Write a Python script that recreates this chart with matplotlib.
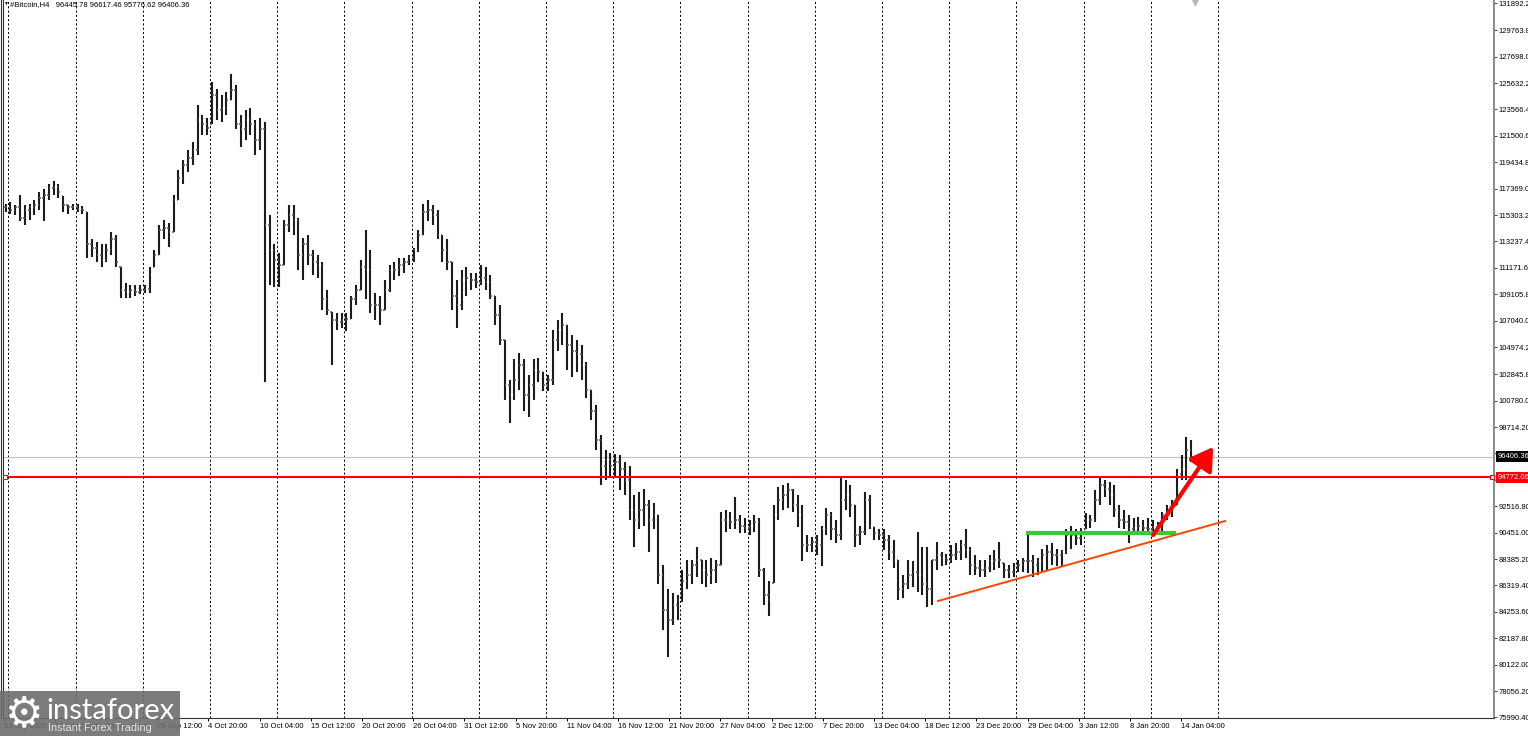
"""Bitcoin H4 bar chart in MetaTrader style with the marked-up levels."""

import matplotlib
matplotlib.use("Agg")
import matplotlib.pyplot as plt
from matplotlib.lines import Line2D
from matplotlib.patches import Rectangle
import numpy as np
import pandas as pd

# 12-hour bars, prices in thousands of USD
START = "2025-09-13 12:00"
HIGH = [
    116.2, 116.3, 116.1, 116.9, 116.1, 116.2, 116.5, 117.1, 117.3, 117.7,
    118.0, 117.7, 116.8, 116.1, 116.2, 116.2, 116.0, 115.5, 113.4, 113.2,
    113.0, 113.0, 114.0, 113.7, 111.2, 110.0, 109.8, 109.8, 109.8, 109.8,
    111.2, 112.6, 114.5, 114.9, 114.7, 116.9, 118.8, 119.6, 120.4, 121.0,
    123.9, 123.1, 122.9, 125.7, 125.2, 124.7, 124.9, 126.3, 125.5, 123.1,
    123.5, 123.7, 122.7, 122.9, 122.6, 115.3, 113.0, 112.3, 114.9, 116.1,
    116.1, 115.1, 113.5, 113.7, 112.6, 112.2, 111.6, 109.4, 107.7, 107.6,
    107.6, 107.6, 109.0, 109.8, 111.8, 114.1, 112.6, 109.2, 109.0, 110.2,
    111.4, 111.6, 111.9, 111.9, 112.2, 112.7, 114.1, 116.2, 116.5, 116.1,
    115.7, 113.7, 113.4, 111.6, 110.2, 111.0, 111.2, 110.8, 110.8, 111.4,
    111.2, 110.6, 109.0, 108.3, 105.5, 102.4, 104.0, 104.5, 104.0, 102.8,
    104.0, 104.1, 103.0, 102.8, 106.3, 107.1, 107.6, 106.7, 105.9, 105.5,
    105.1, 103.8, 101.6, 100.4, 98.1, 96.9, 96.7, 96.6, 96.5, 96.0,
    95.7, 93.4, 93.6, 93.9, 93.0, 92.8, 91.8, 87.9, 86.0, 85.7,
    85.6, 87.5, 88.3, 88.3, 89.3, 88.3, 88.3, 88.5, 88.3, 92.1,
    92.2, 92.1, 93.2, 91.8, 91.6, 91.4, 91.8, 91.6, 87.7, 86.7,
    92.6, 94.0, 94.2, 94.3, 93.9, 93.4, 92.6, 90.3, 90.1, 90.3,
    91.0, 92.4, 92.1, 91.4, 94.7, 94.6, 94.2, 92.6, 91.0, 93.6,
    93.4, 90.9, 90.7, 90.7, 90.3, 89.9, 88.3, 87.1, 88.3, 88.2,
    90.5, 89.3, 89.3, 88.3, 89.7, 88.9, 88.8, 89.5, 89.6, 89.9,
    90.7, 89.3, 88.7, 88.3, 88.3, 88.7, 89.1, 89.7, 88.1, 87.9,
    88.1, 88.3, 88.5, 90.5, 88.7, 88.5, 89.2, 89.5, 89.6, 89.2,
    89.1, 90.7, 91.0, 90.7, 90.8, 92.0, 91.8, 93.8, 94.8, 94.6,
    94.4, 94.2, 92.6, 92.2, 91.8, 91.6, 91.7, 91.4, 91.6, 91.4,
    91.3, 92.1, 92.6, 93.0, 95.4, 96.5, 97.9, 97.7,
]
LOW = [
    115.5, 115.4, 115.3, 114.8, 114.5, 114.9, 115.3, 115.7, 114.8, 116.5,
    116.9, 116.6, 115.5, 115.4, 115.7, 115.5, 115.4, 111.9, 112.0, 111.6,
    111.2, 111.6, 112.2, 111.2, 108.8, 108.8, 108.8, 109.0, 109.1, 109.2,
    109.2, 111.2, 112.2, 113.4, 112.8, 114.0, 116.5, 117.7, 118.7, 119.2,
    120.0, 121.6, 121.6, 122.4, 122.7, 122.6, 123.1, 124.3, 122.0, 120.6,
    121.2, 121.6, 120.0, 120.4, 102.2, 109.8, 109.7, 109.7, 111.4, 114.0,
    113.7, 111.0, 110.2, 111.4, 110.6, 110.4, 107.9, 107.5, 103.6, 106.3,
    106.5, 106.2, 107.2, 108.3, 109.4, 108.7, 107.6, 107.1, 106.7, 107.9,
    109.3, 110.2, 110.5, 110.8, 111.4, 111.6, 112.4, 113.7, 114.8, 114.5,
    113.4, 111.6, 111.0, 107.9, 106.5, 107.9, 109.0, 109.4, 109.6, 109.8,
    109.4, 108.7, 106.7, 105.1, 100.8, 99.0, 100.8, 101.6, 100.0, 99.5,
    100.8, 102.2, 101.5, 101.5, 102.0, 104.7, 105.1, 103.2, 102.6, 103.0,
    102.4, 101.0, 99.3, 96.9, 94.2, 94.6, 94.7, 94.9, 93.8, 93.4,
    91.4, 89.3, 90.7, 91.0, 88.9, 90.7, 86.4, 82.8, 80.7, 83.2,
    83.6, 85.0, 86.0, 86.4, 87.0, 86.4, 86.2, 86.4, 86.5, 87.9,
    90.5, 90.7, 90.7, 90.4, 90.4, 90.3, 90.5, 87.0, 84.8, 83.9,
    86.5, 91.4, 92.2, 92.4, 92.1, 90.9, 88.2, 88.9, 88.9, 88.7,
    87.8, 90.3, 89.9, 89.6, 89.9, 92.2, 91.7, 89.3, 89.5, 90.3,
    90.7, 89.9, 89.9, 89.1, 88.3, 87.7, 85.2, 85.3, 86.0, 86.2,
    85.8, 85.6, 84.6, 84.8, 87.5, 87.8, 87.9, 88.1, 88.3, 88.3,
    88.5, 87.1, 87.1, 87.0, 87.0, 87.4, 87.5, 87.7, 86.9, 86.9,
    87.0, 87.4, 87.4, 87.3, 87.0, 87.1, 87.4, 87.5, 87.9, 87.8,
    87.8, 88.8, 89.2, 89.5, 89.5, 90.7, 90.8, 91.3, 92.6, 93.2,
    92.6, 91.7, 90.8, 90.7, 89.6, 90.3, 90.4, 90.3, 90.4, 90.4,
    90.3, 90.3, 91.4, 91.7, 92.6, 94.6, 94.6, 96.0,
]
CLOSE = [
    115.9, 115.7, 115.9, 115.1, 115.7, 115.9, 116.1, 116.6, 116.9, 117.4,
    117.5, 117.1, 116.1, 115.9, 115.9, 115.8, 115.7, 113.0, 112.7, 112.2,
    111.8, 112.6, 113.4, 111.6, 109.4, 109.3, 109.4, 109.3, 109.4, 109.5,
    110.6, 112.2, 114.1, 114.3, 114.0, 116.5, 118.2, 119.2, 119.8, 120.4,
    122.7, 122.4, 122.1, 124.7, 123.5, 123.7, 124.3, 125.1, 122.4, 122.0,
    122.7, 122.4, 121.2, 122.0, 114.5, 112.6, 111.8, 111.4, 114.5, 115.3,
    114.9, 112.2, 113.0, 112.2, 111.6, 111.4, 108.7, 107.9, 107.1, 106.9,
    107.1, 107.2, 108.7, 109.4, 111.2, 111.0, 108.3, 108.3, 107.9, 109.4,
    111.0, 111.0, 111.4, 111.6, 111.9, 112.6, 113.7, 115.5, 115.7, 115.3,
    113.7, 112.6, 111.6, 109.0, 108.3, 110.2, 110.4, 110.2, 110.1, 110.4,
    110.1, 109.0, 107.5, 105.5, 102.0, 101.2, 102.4, 103.6, 101.2, 102.0,
    103.2, 103.0, 102.0, 102.4, 105.5, 106.3, 106.7, 105.1, 104.7, 104.4,
    103.6, 101.6, 100.0, 97.7, 95.7, 96.1, 95.7, 96.0, 95.4, 94.6,
    92.2, 91.4, 92.2, 92.6, 91.4, 91.8, 87.1, 84.4, 83.6, 84.8,
    85.2, 86.7, 87.1, 87.9, 88.3, 87.5, 87.1, 87.5, 87.9, 91.4,
    91.4, 91.3, 91.4, 91.0, 90.8, 91.0, 91.3, 87.5, 85.6, 85.2,
    91.8, 93.0, 93.4, 93.8, 92.6, 91.8, 89.5, 89.5, 89.7, 89.5,
    90.7, 91.8, 90.7, 90.3, 93.0, 93.4, 92.6, 90.3, 90.5, 93.0,
    91.0, 90.4, 90.3, 89.9, 88.9, 88.3, 86.0, 86.4, 87.1, 87.4,
    87.1, 86.4, 86.0, 88.3, 88.7, 88.5, 88.3, 88.7, 88.9, 89.5,
    89.1, 87.9, 87.7, 87.5, 87.7, 88.2, 88.3, 88.3, 87.5, 87.4,
    87.7, 87.9, 88.2, 88.2, 87.9, 88.2, 88.7, 88.9, 88.7, 88.7,
    88.9, 90.3, 90.3, 90.0, 90.7, 91.4, 91.4, 93.0, 94.2, 93.9,
    93.4, 92.2, 91.4, 91.3, 90.7, 90.8, 91.0, 90.8, 90.7, 90.9,
    90.8, 91.8, 92.1, 92.6, 95.0, 95.4, 96.9, 96.406,
]
FIRST_OPEN = 115.9

PRICE_TICKS = [131892.2, 129763.8, 127698.0, 125632.2, 123566.4, 121500.6,
               119434.8, 117369.0, 115303.2, 113237.4, 111171.6, 109105.8,
               107040.0, 104974.2, 102845.8, 100780.0, 98714.2, 96648.4,
               94582.6, 92516.8, 90451.0, 88385.2, 86319.4, 84253.6,
               82187.8, 80122.0, 78056.2, 75990.4]
TIME_TICKS = ["2025-09-13 12:00", "2025-09-18 20:00", "2025-09-24 04:00",
              "2025-09-29 12:00", "2025-10-04 20:00", "2025-10-10 04:00",
              "2025-10-15 12:00", "2025-10-20 20:00", "2025-10-26 04:00",
              "2025-10-31 12:00", "2025-11-05 20:00", "2025-11-11 04:00",
              "2025-11-16 12:00", "2025-11-21 20:00", "2025-11-27 04:00",
              "2025-12-02 12:00", "2025-12-07 20:00", "2025-12-13 04:00",
              "2025-12-18 12:00", "2025-12-23 20:00", "2025-12-29 04:00",
              "2026-01-03 12:00", "2026-01-08 20:00", "2026-01-14 04:00"]
TIME_LABELS = ["13 Sep 2025", "18 Sep 20:00", "24 Sep 04:00", "29 Sep 12:00",
               "4 Oct 20:00", "10 Oct 04:00", "15 Oct 12:00", "20 Oct 20:00",
               "26 Oct 04:00", "31 Oct 12:00", "5 Nov 20:00", "11 Nov 04:00",
               "16 Nov 12:00", "21 Nov 20:00", "27 Nov 04:00", "2 Dec 12:00",
               "7 Dec 20:00", "13 Dec 04:00", "18 Dec 12:00", "23 Dec 20:00",
               "29 Dec 04:00", "3 Jan 12:00", "8 Jan 20:00", "14 Jan 04:00"]
GRID_FROM, GRID_TO = "2025-09-14", "2026-01-18"

LAST_OHLC = [96445.78, 96617.46, 95776.62, 96406.36]
RESISTANCE = 94772.06
GREEN_X, GREEN_Y = ["2025-12-29 00:00", "2026-01-13 15:00"], 90420.0
TREND_X, TREND_Y = ["2025-12-19 20:00", "2026-01-18 18:00"], [85100.0, 91360.0]
ARROW_X, ARROW_Y = ["2026-01-11 06:00", "2026-01-17 12:00"], [90260.0, 97150.0]

W, H = 1528, 736
FS = 5.5


def hours(ts):
    return (pd.to_datetime(ts) - pd.Timestamp(START)) / pd.Timedelta(hours=1)


def main() -> None:
    plt.rcParams["font.family"] = ["Liberation Sans", "DejaVu Sans"]
    fig = plt.figure(figsize=(W / 100, H / 100), dpi=100)
    ax = fig.add_axes([2.5 / W, 18 / H, (1494 - 2.5) / W, 718 / H])
    ax.set_xlim(-2.5, 3726)
    ax.set_ylim(75945, 132127)

    # vertical weekly grid, dotted like the terminal
    for d in pd.date_range(GRID_FROM, GRID_TO, freq="7D"):
        ax.axvline(hours(d), color="black", lw=0.7, ls=(0, (2.2, 2.2)),
                   zorder=1)

    high = np.array(HIGH) * 1000
    low = np.array(LOW) * 1000
    close = np.array(CLOSE) * 1000
    opens = np.clip(np.r_[FIRST_OPEN, CLOSE[:-1]] * 1000, low, high)
    t = pd.date_range(START, periods=len(HIGH), freq="12h")
    xc = hours(t).to_numpy() + 5
    bar = "#1c1c1c"
    ax.vlines(xc, low, high, color=bar, lw=1.5, zorder=3)
    ax.hlines(opens, xc - 4, xc, color="#555555", lw=1.1, zorder=3)
    ax.hlines(close, xc, xc + 4, color="#555555", lw=1.1, zorder=3)

    # bid line and the horizontal level
    ax.axhline(LAST_OHLC[3], color="#c0c0c0", lw=0.8, zorder=2)
    ax.axhline(RESISTANCE, color="#ff0000", lw=1.5, zorder=4)
    ax.plot([0.002, 0.9985], [RESISTANCE] * 2, ls="none", marker="s", ms=3,
            mfc="white", mec="#ff0000", mew=0.8,
            transform=ax.get_yaxis_transform(), clip_on=False, zorder=5)

    # hand-drawn markup
    ax.plot(hours(GREEN_X), [GREEN_Y] * 2, color="#32cd32", lw=3.0,
            solid_capstyle="butt", zorder=4)
    ax.plot(hours(TREND_X), TREND_Y, color="#ff4500", lw=1.4, zorder=4)
    ax.annotate("", xy=(hours(ARROW_X[1]), ARROW_Y[1]),
                xytext=(hours(ARROW_X[0]), ARROW_Y[0]),
                arrowprops=dict(arrowstyle="-|>,head_length=0.9,head_width=0.55",
                                lw=3.0, color="#ff0000", mutation_scale=15,
                                shrinkA=0, shrinkB=0), zorder=5)

    # axes
    ax.yaxis.tick_right()
    ax.set_yticks(PRICE_TICKS)
    ax.set_yticklabels([f"{v:.2f}" for v in PRICE_TICKS])
    ax.tick_params(axis="y", length=2.2, width=0.7, color="#404040",
                   labelsize=FS, pad=1.2)
    ax.set_xticks(hours(TIME_TICKS))
    ax.set_xticklabels(TIME_LABELS)
    ax.tick_params(axis="x", length=2.2, width=0.7, labelsize=FS, pad=1.5)
    for lab in ax.get_xticklabels():
        lab.set_ha("left")
    ax.spines["top"].set_visible(False)
    ax.spines["left"].set_color("#303030")
    ax.spines["left"].set_linewidth(0.8)
    ax.spines["bottom"].set_color("#303030")
    ax.spines["bottom"].set_linewidth(0.8)
    ax.spines["right"].set_color("#8a8a8a")
    ax.spines["right"].set_linewidth(1.4)
    fig.add_artist(Line2D([0.8 / W] * 2, [18 / H, 1], color="#303030", lw=0.8))

    # price boxes on the scale
    for v, fc in [(LAST_OHLC[3], "black"), (RESISTANCE, "#ff0000")]:
        ax.annotate(f"{v:.2f}", xy=(1, v), xycoords=ax.get_yaxis_transform(),
                    xytext=(2.4, 0), textcoords="offset points", ha="left",
                    va="center", fontsize=FS, color="white", zorder=6,
                    annotation_clip=False,
                    bbox=dict(boxstyle="square,pad=0.22", fc=fc, ec="none"))

    # header and chart-shift marker
    fig.text(5 / W, 1 - 3 / H, "▼", fontsize=3.5, ha="center", va="center")
    fig.text(9.5 / W, 1 - 5 / H,
             "#Bitcoin,H4   " + " ".join(f"{v:.2f}" for v in LAST_OHLC),
             fontsize=FS, va="center")
    fig.add_artist(Line2D([1195 / W], [1 - 2 / H], marker="v", ms=4,
                          color="#b8b8b8", ls="none"))

    # watermark
    fig.add_artist(Rectangle((0, 0), 180 / W, 45 / H, transform=fig.transFigure,
                             fc="#6e6e6e", ec="none", alpha=0.9, zorder=10))
    fig.text(24 / W, 22 / H, "⚙", fontsize=31, color="white", ha="center",
             va="center", family="DejaVu Sans", zorder=11)
    fig.text(46 / W, 17 / H, "instaforex", fontsize=21, color="white",
             family="Lato", va="baseline", zorder=11)
    fig.text(48 / W, 5 / H, "Instant Forex Trading", fontsize=7.8,
             color="#e4e4e4", va="baseline", zorder=11)

    fig.savefig("out.png", dpi=100)


if __name__ == "__main__":
    main()
